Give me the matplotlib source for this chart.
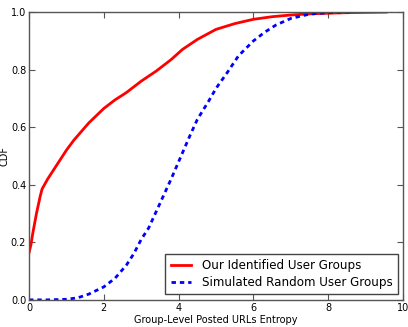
import numpy as np
import matplotlib
matplotlib.use("Agg")
import matplotlib.pyplot as plt

# values
red_x = [0, 0.05, 0.1, 0.2, 0.3, 0.35, 0.5, 0.7, 0.9, 1.0, 1.2, 1.4, 1.6, 1.8, 2.0,
         2.3, 2.6, 3.0, 3.4, 3.8, 4.1, 4.5, 5.0, 5.5, 6.0, 6.5, 7.0, 7.5, 8.0, 8.5, 9.0, 9.55]
red_y = [0.163, 0.19, 0.23, 0.30, 0.36, 0.385, 0.42, 0.46, 0.50, 0.52, 0.555, 0.585, 0.615,
         0.64, 0.665, 0.695, 0.72, 0.76, 0.795, 0.835, 0.87, 0.905, 0.94, 0.96, 0.975, 0.984,
         0.99, 0.994, 0.996, 0.998, 0.999, 1.0]

blue_x = [0, 0.5, 1.0, 1.3, 1.6, 2.0, 2.3, 2.6, 2.8, 3.0, 3.2, 3.5, 3.8, 4.0, 4.3, 4.5,
          4.8, 5.0, 5.3, 5.6, 6.0, 6.3, 6.6, 7.0, 7.5, 8.0, 8.6]
blue_y = [0, 0, 0.002, 0.007, 0.02, 0.045, 0.075, 0.12, 0.16, 0.21, 0.25, 0.335, 0.42, 0.48,
          0.57, 0.627, 0.69, 0.735, 0.79, 0.848, 0.9, 0.93, 0.955, 0.978, 0.993, 0.998, 1.0]

labels = ['Our Identified User Groups', 'Simulated Random User Groups']

fig = plt.figure(figsize=(4.08, 3.27), dpi=100)
ax = fig.add_axes([0.071, 0.083, 0.917, 0.880])

ax.plot(red_x, red_y, color=(1, 0, 0), lw=2, label=labels[0])
ax.plot(blue_x, blue_y, color=(0, 0, 1), lw=2, linestyle=(0, (1.6, 1.4)), label=labels[1])

ax.set_xlim(0, 10)
ax.set_ylim(0, 1)
ax.set_xticks([0, 2, 4, 6, 8, 10])
ax.set_yticks([0, 0.2, 0.4, 0.6, 0.8, 1.0])
ax.set_yticklabels(['0.0', '0.2', '0.4', '0.6', '0.8', '1.0'])
ax.tick_params(direction='in', top=True, right=True, labelsize=7, length=4,
               color='#555555', pad=2)
for s in ax.spines.values():
    s.set_color('#555555')
    s.set_linewidth(1)

ax.set_xlabel('Group-Level Posted URLs Entropy', fontsize=7, labelpad=2)
ax.set_ylabel('CDF', fontsize=7, labelpad=1)

leg = ax.legend(loc='lower right', fontsize=8.6, fancybox=False, framealpha=1,
                edgecolor='#444444', handlelength=1.7, handletextpad=0.9,
                borderpad=0.45, labelspacing=0.35, borderaxespad=0.45)
leg.get_frame().set_linewidth(1)

fig.savefig('out.png', dpi=100, facecolor='white')
